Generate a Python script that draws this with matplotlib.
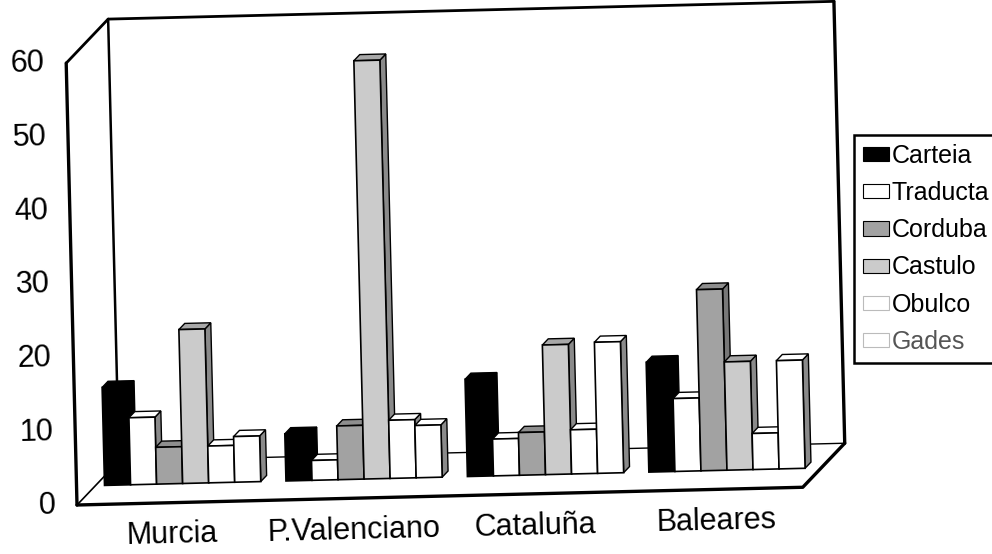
import numpy as np
import matplotlib
matplotlib.use('Agg')
import matplotlib.pyplot as plt
from matplotlib.patches import Polygon, Patch
from matplotlib.transforms import Affine2D

plt.rcParams['font.family'] = ['Liberation Sans', 'DejaVu Sans']

# data
regions = ['Murcia', 'P.Valenciano', 'Cataluña', 'Baleares']
series = ['Carteia', 'Traducta', 'Corduba', 'Castulo', 'Obulco', 'Gades']
carteia = [13.3, 6.4, 13.2, 14.9]
traducta = [9.1, 2.7, 5.0, 9.9]
corduba = [5.0, 7.3, 5.8, 24.6]
castulo = [20.9, 56.8, 17.6, 14.7]
obulco = [5.0, 7.9, 6.0, 4.9]
gades = [6.2, 7.1, 17.8, 14.7]
yticks = [0, 10, 20, 30, 40, 50, 60]

values = [carteia, traducta, corduba, castulo, obulco, gades]
front_col = ['black', 'white', '#a2a2a2', '#cbcbcb', 'white', 'white']
top_col = ['black', 'white', '#8e8e8e', '#a8a8a8', 'white', 'white']
side_col = ['black', '#8a8a8a', '#777777', '#8a8a8a', '#8a8a8a', '#8a8a8a']

fig = plt.figure(figsize=(9.92, 5.54), dpi=100)
ax = fig.add_axes([77 / 992, 49 / 554, 726 / 992, 442 / 554])
ax.set_xlim(0, 4)
ax.set_ylim(0, 60)
ax.axis('off')

# the scan is tilted a little, rotate everything around the front-left corner
px, py = ax.transData.transform((0, 0))
rot = ax.transData + Affine2D().rotate_deg_around(px, py, 1.4)
tilt = 1.4

# depth of the floor, in data units
DX, DY = 43 / 181.5, 43 / 7.367
f0 = 0.44     # bars front plane
fb = 0.14     # bar depth
bw = 0.1435   # bar width
start = 0.05


def line(xs, ys, lw, **kw):
    ax.plot(xs, ys, color='black', lw=lw, transform=rot, clip_on=False,
            solid_capstyle='round', **kw)


def poly(pts, fc, lw=1.0, z=2):
    ax.add_patch(Polygon(pts, closed=True, facecolor=fc, edgecolor='black',
                         lw=lw, transform=rot, clip_on=False, zorder=z))


# walls and floor
poly([(0, 0), (4, 0), (4 + DX, DY), (DX, DY)], 'white', lw=0, z=1)
line([DX, 4 + DX], [DY, DY], 1.0)
line([0, DX], [0, DY], 1.2)
line([DX, DX], [DY, 60 + DY], 1.8)
line([0, 0], [0, 60], 2.4)
line([0, DX], [60, 60 + DY], 2.0)
line([DX, 4 + DX], [60 + DY, 60 + DY], 2.0)
line([4 + DX, 4 + DX], [60 + DY, DY], 2.4)
line([0, 4, 4 + DX], [0, 0, DY], 2.4)

# bars, left to right so each front face hides the side of the previous one
for i in range(len(regions)):
    for j in range(len(series)):
        h = values[j][i]
        xl = i + start + j * bw + f0 * DX
        xr = xl + bw
        yb = f0 * DY
        yt = yb + h
        dx, dy = fb * DX, fb * DY
        poly([(xr, yb), (xr + dx, yb + dy), (xr + dx, yt + dy), (xr, yt)],
             side_col[j], lw=1.0, z=3)
        poly([(xl, yt), (xr, yt), (xr + dx, yt + dy), (xl + dx, yt + dy)],
             top_col[j], lw=1.0, z=3)
        poly([(xl, yb), (xr, yb), (xr, yt), (xl, yt)],
             front_col[j], lw=1.2, z=3)

# value labels on the front edge
for t in yticks:
    ax.text(-0.12, t, str(t), transform=rot, rotation=tilt,
            rotation_mode='anchor', ha='right', va='center', fontsize=22)

# region labels
for i, name in enumerate(regions):
    ax.text(i + 0.52, -4.4, name, transform=rot, rotation=tilt,
            rotation_mode='anchor', ha='center', va='center', fontsize=22)

handles = [Patch(facecolor=front_col[j], edgecolor='black' if j < 4 else '#bbbbbb',
                 lw=0.8) for j in range(len(series))]
leg = fig.legend(handles, series, loc='upper left',
                 bbox_to_anchor=(854 / 992, 1 - 135 / 554),
                 bbox_transform=fig.transFigure, fontsize=18,
                 fancybox=False, edgecolor='black', framealpha=1,
                 handlelength=1.05, handleheight=0.5, handletextpad=0.1,
                 labelspacing=0.53, borderpad=0.35, borderaxespad=0)
leg.get_frame().set_linewidth(1.8)
leg.get_texts()[5].set_color('#555555')

fig.savefig('out.png', dpi=100)
